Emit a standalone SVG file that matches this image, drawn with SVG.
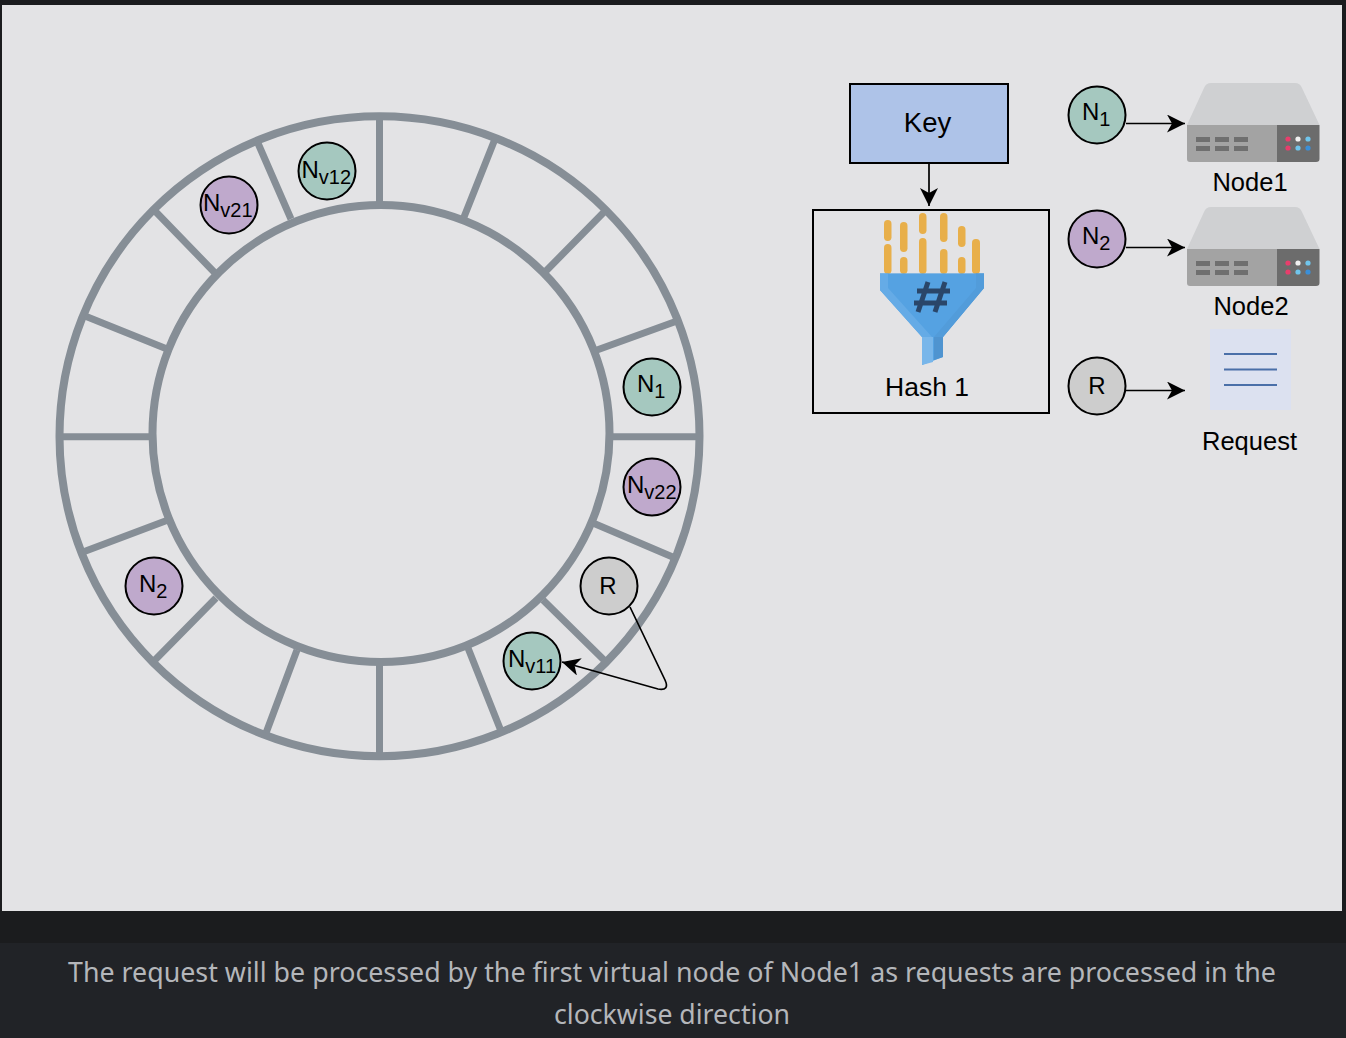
<svg xmlns="http://www.w3.org/2000/svg" xmlns:xlink="http://www.w3.org/1999/xlink" width="1346" height="1038" viewBox="0 0 1346 1038">
<style>
.ring{fill:none;stroke:#868e96;stroke-width:8}
.spoke{stroke:#868e96;stroke-width:7;fill:none}
.c{stroke:#000;stroke-width:2}
.g{fill:#a5c8bf}.p{fill:#bfa9cc}.r{fill:#cdcdcd}
text{font-family:"Liberation Sans",Arial,sans-serif;fill:#000}
.l{font-size:25.500px;text-anchor:middle}
.n{font-size:24px}
.s{font-size:20px}
.conn{stroke:#000;stroke-width:1.700;fill:none}
.bar{fill:#e8af4a}
.cap{font-family:"Noto Sans","Open Sans",sans-serif;font-size:27px;fill:#b4b6ba;text-anchor:middle}
</style>
<defs>
<marker id="a" markerUnits="userSpaceOnUse" markerWidth="20" markerHeight="20" refX="18" refY="9" orient="auto"><path d="M0 0L18 9L0 18L5 9Z" fill="#000"/></marker>
<g id="server">
<path d="M1187 125L1204 88Q1206 83 1211 83H1295Q1300 83 1302 88L1319.500 125Z" fill="#cfd0d2"/>
<path d="M1187 125H1277V162H1190Q1187 162 1187 159Z" fill="#a3a3a3"/>
<path d="M1277 125H1319.500V159Q1319.500 162 1316 162H1277Z" fill="#6c6c6c"/>
<g fill="#6f6f6f"><rect x="1196" y="137" width="14" height="5"/><rect x="1215" y="137" width="14" height="5"/><rect x="1234" y="137" width="14" height="5"/><rect x="1196" y="146" width="14" height="5"/><rect x="1215" y="146" width="14" height="5"/><rect x="1234" y="146" width="14" height="5"/></g>
<circle cx="1288" cy="139" r="2.600" fill="#e83e6c"/><circle cx="1298" cy="139" r="2.600" fill="#f0f0f0"/><circle cx="1308" cy="139" r="2.600" fill="#70c5ec"/>
<circle cx="1288" cy="148" r="2.600" fill="#e83e6c"/><circle cx="1298" cy="148" r="2.600" fill="#70c5ec"/><circle cx="1308" cy="148" r="2.600" fill="#3a8fd8"/>
</g>
</defs>
<rect width="1346" height="1038" fill="#1b1c1e"/>
<rect x="2" y="5" width="1340" height="906" fill="#e3e3e5"/>
<rect y="943" width="1346" height="95" fill="#212327"/>

<g id="ring">
<circle class="ring" cx="379.500" cy="436.300" r="320"/>
<circle class="ring" cx="381" cy="433.500" r="228.500"/>
<path class="spoke" d="M379.500 117V206M379.500 661V756M60 436.700H152M610 436.700H698M495 139L464 217M297 650L266 733M468 648L501 731M85 316L167 349M593 523L675 558M606 210L545 272M216 598L154 661M155 211L216 274M543 600L606 662M257 141L291 219M83 552L168 520M597 350L677 321"/>
</g>

<g id="connectors">
<path class="conn" d="M929 163V206" marker-end="url(#a)"/>
<path class="conn" d="M1126 123.500H1185" marker-end="url(#a)"/>
<path class="conn" d="M1126 247.500H1185" marker-end="url(#a)"/>
<path class="conn" d="M1126 390.500H1185" marker-end="url(#a)"/>
<path class="conn" d="M630 607L665 680Q670 691 658 689L562 662" marker-end="url(#a)"/>
</g>

<g id="node-n1-ring"><circle class="c g" cx="652" cy="387" r="28.500"/><text class="n" x="637" y="392">N<tspan class="s" dy="6">1</tspan></text></g>
<g id="node-nv22"><circle class="c p" cx="652" cy="487" r="28.500"/><text class="n" x="627" y="493">N<tspan class="s" dy="6">v22</tspan></text></g>
<g id="node-r-ring"><circle class="c r" cx="609" cy="586" r="28.500"/><text class="n" x="608" y="593.500" text-anchor="middle">R</text></g>
<g id="node-nv11"><circle class="c g" cx="532" cy="661" r="28.500"/><text class="n" x="508" y="667">N<tspan class="s" dy="6">v11</tspan></text></g>
<g id="node-n2-ring"><circle class="c p" cx="154" cy="586" r="28.500"/><text class="n" x="139" y="591.500">N<tspan class="s" dy="6">2</tspan></text></g>
<g id="node-nv21"><circle class="c p" cx="229" cy="205" r="28.500"/><text class="n" x="203" y="211">N<tspan class="s" dy="6">v21</tspan></text></g>
<g id="node-nv12"><circle class="c g" cx="327" cy="171" r="28.500"/><text class="n" x="301.500" y="178">N<tspan class="s" dy="6">v12</tspan></text></g>

<g id="node-key"><rect x="850" y="84" width="158" height="79" fill="#aec3e8" stroke="#000" stroke-width="2"/><text x="927.500" y="132" font-size="27.500" text-anchor="middle">Key</text></g>

<g id="node-hash">
<rect x="813" y="210" width="236" height="203" fill="none" stroke="#000" stroke-width="2"/>
<rect class="bar" x="884" y="220" width="7.500" height="21" rx="3.700"/><rect class="bar" x="884" y="244" width="7.500" height="30" rx="3.700"/>
<rect class="bar" x="900" y="222" width="7.500" height="30" rx="3.700"/><rect class="bar" x="900" y="257" width="7.500" height="17" rx="3.700"/>
<rect class="bar" x="919" y="213" width="7.500" height="21" rx="3.700"/><rect class="bar" x="919" y="238" width="7.500" height="36" rx="3.700"/>
<rect class="bar" x="940" y="213" width="7.500" height="29" rx="3.700"/><rect class="bar" x="940" y="249" width="7.500" height="25" rx="3.700"/>
<rect class="bar" x="958" y="226" width="7.500" height="21" rx="3.700"/><rect class="bar" x="958" y="257" width="7.500" height="17" rx="3.700"/>
<rect class="bar" x="972" y="239" width="8" height="35" rx="3.700"/>
<path d="M880 273.500H984V288L943 337V357L922 365V337L880 290Z" fill="#55a2e2"/>
<path d="M880 273.500H888V288L932 337H922V365V337L880 290Z" fill="#78b6ea"/>
<path d="M922 337H933V362L922 365Z" fill="#78b6ea"/>
<path d="M976 273.500H984V288L943 337V357L934 360V337L976 288Z" fill="#4f94d0"/>
<path d="M880 273.500H984V288L943 337H922L880 290Z" fill="#55a2e2" opacity=".55"/>
<path d="M928 282L918 312M945 282L935 312M917 291H950M914 303H947" stroke="#2a4669" stroke-width="5" fill="none"/>
<text x="927" y="395.500" font-size="26.500" text-anchor="middle">Hash 1</text>
</g>

<g id="node-n1"><circle class="c g" cx="1097" cy="115" r="28.500"/><text class="n" x="1082" y="120">N<tspan class="s" dy="6">1</tspan></text></g>
<g id="node-n2"><circle class="c p" cx="1097" cy="239" r="28.500"/><text class="n" x="1082" y="244">N<tspan class="s" dy="6">2</tspan></text></g>
<g id="node-r"><circle class="c r" cx="1097" cy="386" r="28.500"/><text class="n" x="1097" y="393.500" text-anchor="middle">R</text></g>

<g id="node-server1"><use xlink:href="#server" href="#server"/><text class="l" x="1250" y="191">Node1</text></g>
<g id="node-server2"><use xlink:href="#server" href="#server" y="124"/><text class="l" x="1251" y="315">Node2</text></g>
<g id="node-request">
<rect x="1210" y="329" width="81" height="81" fill="#dce1f0"/>
<path d="M1224 354H1277M1224 369.500H1277M1224 385H1277" stroke="#4a6fa8" stroke-width="2" fill="none"/>
<text class="l" x="1249.500" y="449.500">Request</text>
</g>

<g id="caption">
<text class="cap" x="672" y="981.500" textLength="1208" lengthAdjust="spacingAndGlyphs">The request will be processed by the first virtual node of Node1 as requests are processed in the</text>
<text class="cap" x="672" y="1023.500" textLength="236" lengthAdjust="spacingAndGlyphs">clockwise direction</text>
</g>
</svg>
